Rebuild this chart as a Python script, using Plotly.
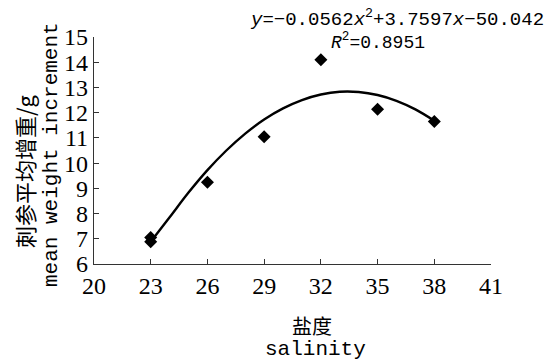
import plotly.graph_objects as go

# observed data
salinity = [23, 23, 26, 29, 32, 35, 38]
weight_gain = [7.05, 6.88, 9.24, 11.05, 14.1, 12.14, 11.65]

# fitted trend curve
curve_x = [23, 24, 25, 26, 27, 28, 29, 30, 31, 32, 33, 34, 35, 36, 37, 38]
curve_y = [6.88, 7.85, 8.83, 9.72, 10.50, 11.17, 11.73, 12.17, 12.50, 12.72, 12.83, 12.82, 12.70, 12.47, 12.13, 11.68]

x_ticks = [20, 23, 26, 29, 32, 35, 38, 41]
y_ticks = [6, 7, 8, 9, 10, 11, 12, 13, 14, 15]

serif = "Liberation Serif, Noto Sans CJK SC, serif"
mono = "Liberation Mono, Noto Sans CJK SC, monospace"
cjk = "Noto Sans CJK SC, sans-serif"

fig = go.Figure()
fig.add_trace(go.Scatter(x=curve_x, y=curve_y, mode="lines",
                         line=dict(color="black", width=2.4, shape="spline"),
                         showlegend=False, hoverinfo="skip"))
fig.add_trace(go.Scatter(x=salinity, y=weight_gain, mode="markers",
                         marker=dict(symbol="diamond", color="black", size=10),
                         showlegend=False))

fig.update_layout(
    width=547, height=361,
    margin=dict(l=94, r=56, t=37, b=97),
    paper_bgcolor="white", plot_bgcolor="white",
    xaxis=dict(range=[20, 41], tickvals=x_ticks, ticktext=[str(v) for v in x_ticks],
               showgrid=False, zeroline=False, showline=True, linecolor="#333",
               linewidth=1.2, ticks="inside", ticklen=5, tickcolor="#333",
               tickfont=dict(family=serif, size=24, color="black")),
    yaxis=dict(range=[6, 15], tickvals=y_ticks, ticktext=[str(v) for v in y_ticks],
               showgrid=False, zeroline=False, showline=True, linecolor="#333",
               linewidth=1.2, ticks="inside", ticklen=5, tickcolor="#333",
               tickfont=dict(family=serif, size=24, color="black")),
)

annots = [
    dict(text="刺参平均增重/g", x=24, y=171, textangle=-90, font=dict(family=cjk, size=22)),
    dict(text="mean weight increment", x=51, y=155, textangle=-90, font=dict(family=mono, size=21)),
    dict(text="盐度", x=312, y=325, font=dict(family=cjk, size=20)),
    dict(text="salinity", x=315, y=349, font=dict(family=mono, size=21)),
    dict(text="<i>y</i>=−0.0562<i>x</i><sup>2</sup>+3.7597<i>x</i>−50.042", x=397, y=18,
         font=dict(family=mono, size=19)),
    dict(text="<i>R</i><sup>2</sup>=0.8951", x=378, y=42, font=dict(family=mono, size=18)),
]
for a in annots:
    fig.add_annotation(text=a["text"],
                       x=(a["x"] - 94) / (547 - 94 - 56), y=(264 - a["y"]) / (264 - 37),
                       xref="paper", yref="paper", xanchor="center", yanchor="middle",
                       showarrow=False, textangle=a.get("textangle", 0),
                       font=dict(color="black", **a["font"]))

fig.write_html("out.html")
